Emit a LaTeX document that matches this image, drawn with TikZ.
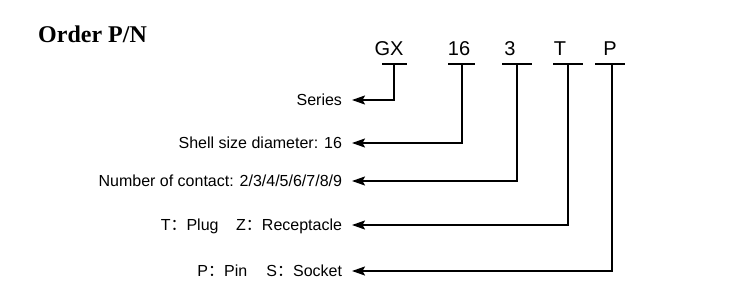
\documentclass[tikz,border=0pt]{standalone}
\usepackage{fontspec}
\setmainfont{Liberation Sans}
\newfontfamily\headfont{Liberation Serif}
\newfontfamily\cjk{Noto Sans CJK SC}
\usetikzlibrary{arrows.meta}
\newcommand{\fwc}{{\cjk ：}}
\begin{document}
\begin{tikzpicture}[x=1bp,y=-1bp,
  code/.style={inner sep=0, anchor=base, font=\fontsize{20bp}{22bp}\selectfont},
  lbl/.style={inner ysep=0, inner xsep=0, outer xsep=10bp, anchor=east, text height=11.5bp, text depth=0bp, font=\fontsize{16bp}{18bp}\selectfont},
  conn/.style={line width=1.9bp, -{Stealth[length=13bp, width=9bp, inset=2.5bp]}},
  bar/.style={line width=1.9bp}]
\useasboundingbox (0,0) rectangle (745,300);
\node[inner sep=0, anchor=base west, font=\headfont\bfseries\fontsize{24bp}{28bp}\selectfont] (title) at (38,42) {Order P/N};
% code letters
\node[code] (cGX) at (389,55) {GX};
\node[code] (c16) at (459,55) {16};
\node[code] (c3) at (510,55) {3};
\node[code] (cT) at (560,55) {T};
\node[code] (cP) at (610,55) {P};
% bars
\coordinate (b1) at (394,64);
\coordinate (b2) at (462,64);
\coordinate (b3) at (517,64);
\coordinate (b4) at (568,64);
\coordinate (b5) at (612,64);
\draw[bar] (382,64) -- (407,64);
\draw[bar] (448,64) -- (475,64);
\draw[bar] (502,64) -- (532,64);
\draw[bar] (553,64) -- (583,64);
\draw[bar] (595,64) -- (625,64);
% labels
\node[lbl] (l1) at (352,100) {Series};
\node[lbl] (l2) at (352,143) {Shell size diameter: 16};
\node[lbl] (l3) at (352,181) {Number of contact: 2/3/4/5/6/7/8/9};
\node[lbl] (l4) at (352,225) {T\fwc Plug\hspace{1.1em}Z\fwc Receptacle};
\node[lbl] (l5) at (352,271) {P\fwc Pin\hspace{1.2em}S\fwc Socket};
% connectors
\draw[conn] (b1) |- (l1.east);
\draw[conn] (b2) |- (l2.east);
\draw[conn] (b3) |- (l3.east);
\draw[conn] (b4) |- (l4.east);
\draw[conn] (b5) |- (l5.east);
\end{tikzpicture}
\end{document}
